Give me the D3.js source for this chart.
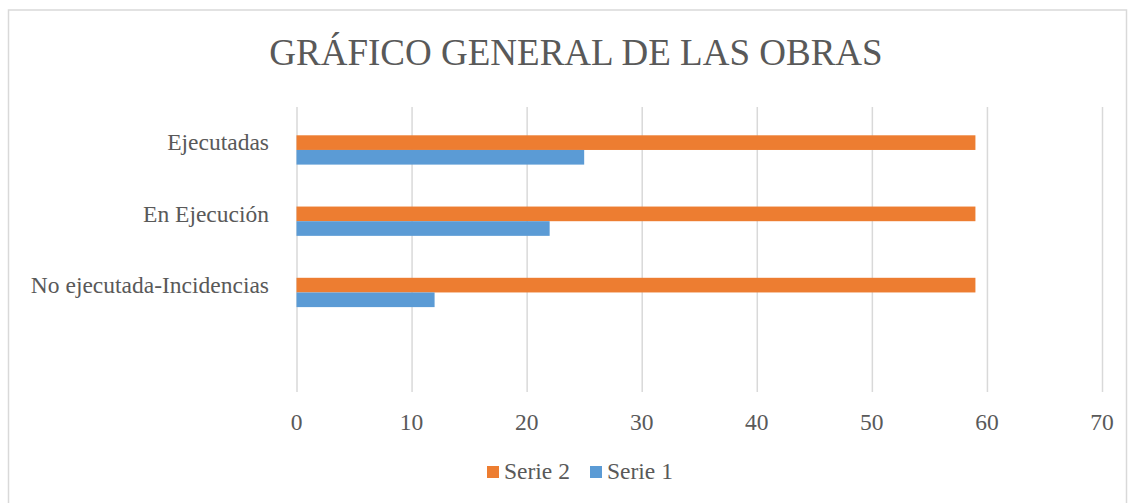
<!DOCTYPE html>
<html>
<head>
<meta charset="utf-8">
<script src="https://cdn.jsdelivr.net/npm/d3@7"></script>
<style>
  body { margin: 0; background: #fff; }
  text { font-family: 'Liberation Serif', 'Times New Roman', serif; fill: #595959; }
</style>
</head>
<body>
<div id="container"></div>
<script>
const canvasWidth = 1130;
const canvasHeight = 503;

// data
let categories = ['Ejecutadas', 'En Ejecución', 'No ejecutada-Incidencias', ''];
let serie2 = [59, 59, 59];
let serie1 = [25, 22, 12];
let xTicks = [0, 10, 20, 30, 40, 50, 60, 70];
// third slot is an empty series (Excel leaves its space)
let seriesNames = ['', 'Serie 2', 'Serie 1'];
let legendNames = ['Serie 2', 'Serie 1'];

let colors = {
  'Serie 2': '#ED7D31',
  'Serie 1': '#5B9BD5'
};

let plotLeft = 296.5;
let plotRight = 1102;
let plotTop = 107;
let plotBottom = 392;

let svg = d3.select('#container')
  .append('svg')
  .attr('width', canvasWidth)
  .attr('height', canvasHeight);

// frame
svg.append('rect')
  .attr('x', 8.5).attr('y', 10)
  .attr('width', 1118).attr('height', 520)
  .style('fill', 'none')
  .style('stroke', '#d9d9d9')
  .style('stroke-width', 1.5);

// title
svg.append('text')
  .attr('x', 576).attr('y', 65)
  .attr('text-anchor', 'middle')
  .style('font-size', '37px')
  .text('GRÁFICO GENERAL DE LAS OBRAS');

let xScale = d3.scaleLinear().domain([0, 70]).range([plotLeft, plotRight]);

let yScale = d3.scaleBand()
  .domain(categories)
  .range([plotTop, plotBottom])
  .paddingInner(0.383)
  .paddingOuter(0.383 / 2);

let ySub = d3.scaleBand()
  .domain(seriesNames)
  .range([0, yScale.bandwidth()]);

// gridlines
let grid = d3.axisBottom(xScale)
  .tickValues(xTicks)
  .tickSize(-(plotBottom - plotTop))
  .tickFormat('');

svg.append('g')
  .attr('transform', 'translate(0,' + plotBottom + ')')
  .call(grid)
  .call(g => g.select('.domain').remove())
  .call(g => g.selectAll('line').style('stroke', '#d9d9d9').style('stroke-width', 1.5));

// tick labels
svg.append('g')
  .selectAll('text')
  .data(xTicks)
  .enter()
  .append('text')
  .attr('x', d => xScale(d))
  .attr('y', 430)
  .attr('text-anchor', 'middle')
  .style('font-size', '23.5px')
  .text(d => d);

// category labels
svg.append('g')
  .selectAll('text')
  .data(categories)
  .enter()
  .append('text')
  .attr('x', 269)
  .attr('y', d => yScale(d) + yScale.bandwidth() / 2)
  .attr('dy', '0.33em')
  .attr('text-anchor', 'end')
  .style('font-size', '23.5px')
  .text(d => d);

// bars
let rows = [];
for (let i = 0; i < serie1.length; i++) {
  rows.push({ cat: categories[i], name: 'Serie 2', value: serie2[i] });
  rows.push({ cat: categories[i], name: 'Serie 1', value: serie1[i] });
}

svg.append('g')
  .selectAll('rect')
  .data(rows)
  .enter()
  .append('rect')
  .attr('x', xScale(0))
  .attr('y', d => yScale(d.cat) + ySub(d.name))
  .attr('width', d => xScale(d.value) - xScale(0))
  .attr('height', ySub.bandwidth())
  .style('fill', d => colors[d.name]);

// legend
let legendX = [487, 590];
let legend = svg.append('g')
  .selectAll('g')
  .data(legendNames)
  .enter()
  .append('g')
  .attr('transform', (d, i) => 'translate(' + legendX[i] + ',466)');

legend.append('rect')
  .attr('width', 12).attr('height', 12)
  .style('fill', d => colors[d]);

legend.append('text')
  .attr('x', 17).attr('y', 13)
  .style('font-size', '23.5px')
  .text(d => d);
</script>
</body>
</html>
